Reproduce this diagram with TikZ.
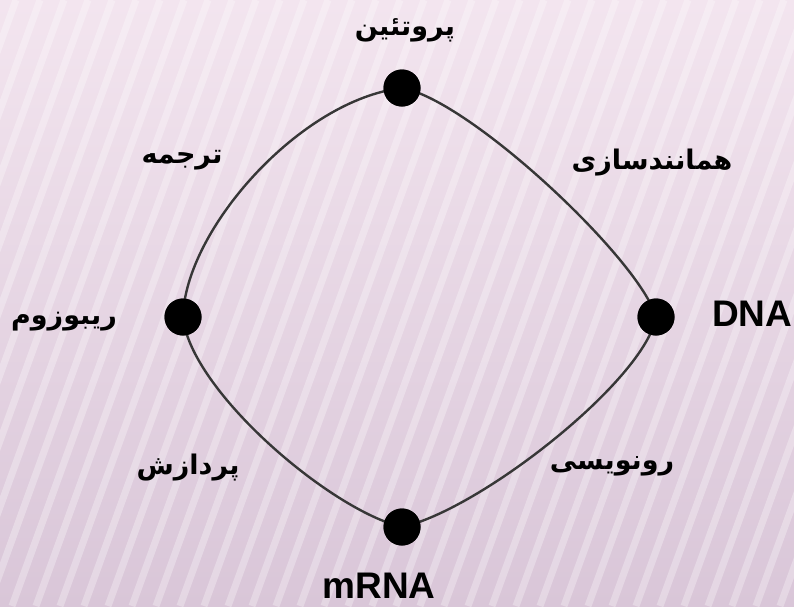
\documentclass[tikz,border=0pt]{standalone}
\usepackage{fontspec}
\setmainfont{Liberation Sans}
\newfontfamily\arabicfont[Script=Arabic]{DejaVu Sans}
\TeXXeTstate=1
\definecolor{bgtop}{RGB}{243,229,239}
\definecolor{bgbot}{RGB}{217,198,216}
\definecolor{linegray}{RGB}{55,55,55}
\tikzset{
  dot/.style={circle,fill=black,minimum size=37pt,inner sep=0pt},
  fa/.style={font=\arabicfont\bfseries\fontsize{27}{30}\selectfont,inner sep=0pt},
  la/.style={font=\bfseries\fontsize{37}{40}\selectfont,inner sep=0pt},
  ring/.style={draw=linegray,line width=2.4pt}
}
\begin{document}
\begin{tikzpicture}[x=1pt,y=-1pt]
\useasboundingbox (0,0) rectangle (794,606);
\shade[top color=bgtop,bottom color=bgbot] (0,0) rectangle (794,606);
\begin{scope}
\clip (0,0) rectangle (794,606);
\foreach \i in {-300,-276,...,800}{
  \draw[white,opacity=0.3,line width=7pt] (\i,606) -- (\i+220,0);
}
\end{scope}
\node[dot] (top) at (402,88) {};
\node[dot] (dna) at (656,317) {};
\node[dot] (bot) at (402,527) {};
\node[dot] (left) at (183,317) {};
\draw[ring] (top.center) .. controls (470,100) and (640,260) .. (dna.center);
\draw[ring] (dna.center) .. controls (645,380) and (480,510) .. (bot.center);
\draw[ring] (bot.center) .. controls (330,510) and (190,390) .. (left.center);
\draw[ring] (left.center) .. controls (185,230) and (300,100) .. (top.center);
\node[dot] at (top) {};
\node[dot] at (dna) {};
\node[dot] at (bot) {};
\node[dot] at (left) {};
\node[fa] (tprot) at (405,30) {\beginR پروتئین\endR};
\node[fa] (trep) at (652,163) {\beginR همانندسازی\endR};
\node[fa] (ttrans) at (182,160) {\beginR ترجمه\endR};
\node[fa] (tribo) at (64,322) {\beginR ریبوزوم\endR};
\node[fa] (tproc) at (188,468) {\beginR پردازش\endR};
\node[fa] (ttr) at (612,466) {\beginR رونویسی\endR};
\node[la,anchor=west] (tdna) at (712,314) {DNA};
\node[la] (tmrna) at (379,586) {mRNA};
\end{tikzpicture}
\end{document}
